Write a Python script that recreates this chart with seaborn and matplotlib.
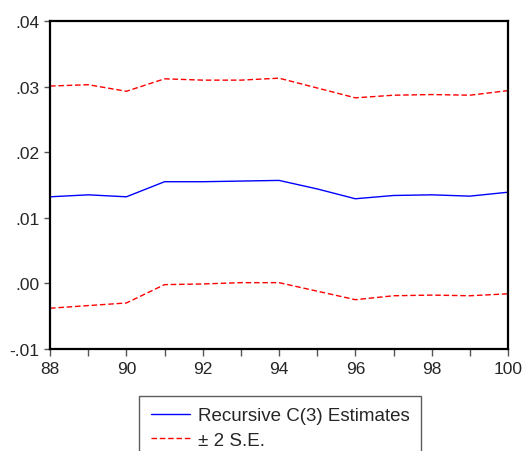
import numpy as np
import pandas as pd
import matplotlib
matplotlib.use("Agg")
import matplotlib.pyplot as plt
import seaborn as sns
from matplotlib.ticker import FuncFormatter, MultipleLocator

years = list(range(88, 101))
estimate = [0.0132, 0.0135, 0.0132, 0.0155, 0.0155, 0.0156, 0.0157,
            0.0144, 0.0129, 0.0134, 0.0135, 0.0133, 0.0139]
upper_se = [0.0301, 0.0303, 0.0293, 0.0312, 0.0310, 0.0310, 0.0313,
            0.0298, 0.0283, 0.0287, 0.0288, 0.0287, 0.0294]
lower_se = [-0.0038, -0.0034, -0.0030, -0.0002, -0.0001, 0.0001, 0.0001,
            -0.0012, -0.0025, -0.0019, -0.0018, -0.0019, -0.0016]

sns.set_style("white")
plt.rcParams['font.family'] = ['Liberation Sans', 'DejaVu Sans']

fig = plt.figure(figsize=(5.27, 4.52), dpi=100)
ax = fig.add_axes([0.095, 0.226, 0.869, 0.725])

sns.lineplot(x=years, y=estimate, ax=ax, color='blue', lw=1.0,
             label='Recursive C(3) Estimates')
sns.lineplot(x=years, y=upper_se, ax=ax, color='red', lw=1.0,
             label='± 2 S.E.')
sns.lineplot(x=years, y=lower_se, ax=ax, color='red', lw=1.0)
for ln in ax.lines[1:]:
    ln.set_dashes((4, 2))

ax.set_xlim(88, 100)
ax.set_ylim(-0.01, 0.04)
ax.xaxis.set_major_locator(MultipleLocator(2))
ax.xaxis.set_minor_locator(MultipleLocator(1))
ax.yaxis.set_major_locator(MultipleLocator(0.01))
ax.yaxis.set_major_formatter(FuncFormatter(
    lambda v, p: ('-' if v < -1e-9 else '') + ('%.2f' % abs(v))[1:]))
ax.tick_params(axis='both', which='both', direction='out', length=5,
               width=1, color='#555555', labelsize=12.5, left=True, bottom=True)
ax.tick_params(axis='y', length=4)
for s in ax.spines.values():
    s.set_color('black')
    s.set_linewidth(1.6)

handles, labels = ax.get_legend_handles_labels()
handles[1].set_dashes((4, 2))
ax.get_legend().remove()
leg = fig.legend(handles, labels, loc='upper center',
                 bbox_to_anchor=(0.532, 0.122), frameon=True, fancybox=False,
                 fontsize=13.5, handlelength=2.1, borderpad=0.6,
                 labelspacing=0.4, handletextpad=0.45, borderaxespad=0)
leg.get_frame().set_edgecolor('#333333')
leg.get_frame().set_linewidth(1.0)

fig.savefig("out.png", dpi=100)
